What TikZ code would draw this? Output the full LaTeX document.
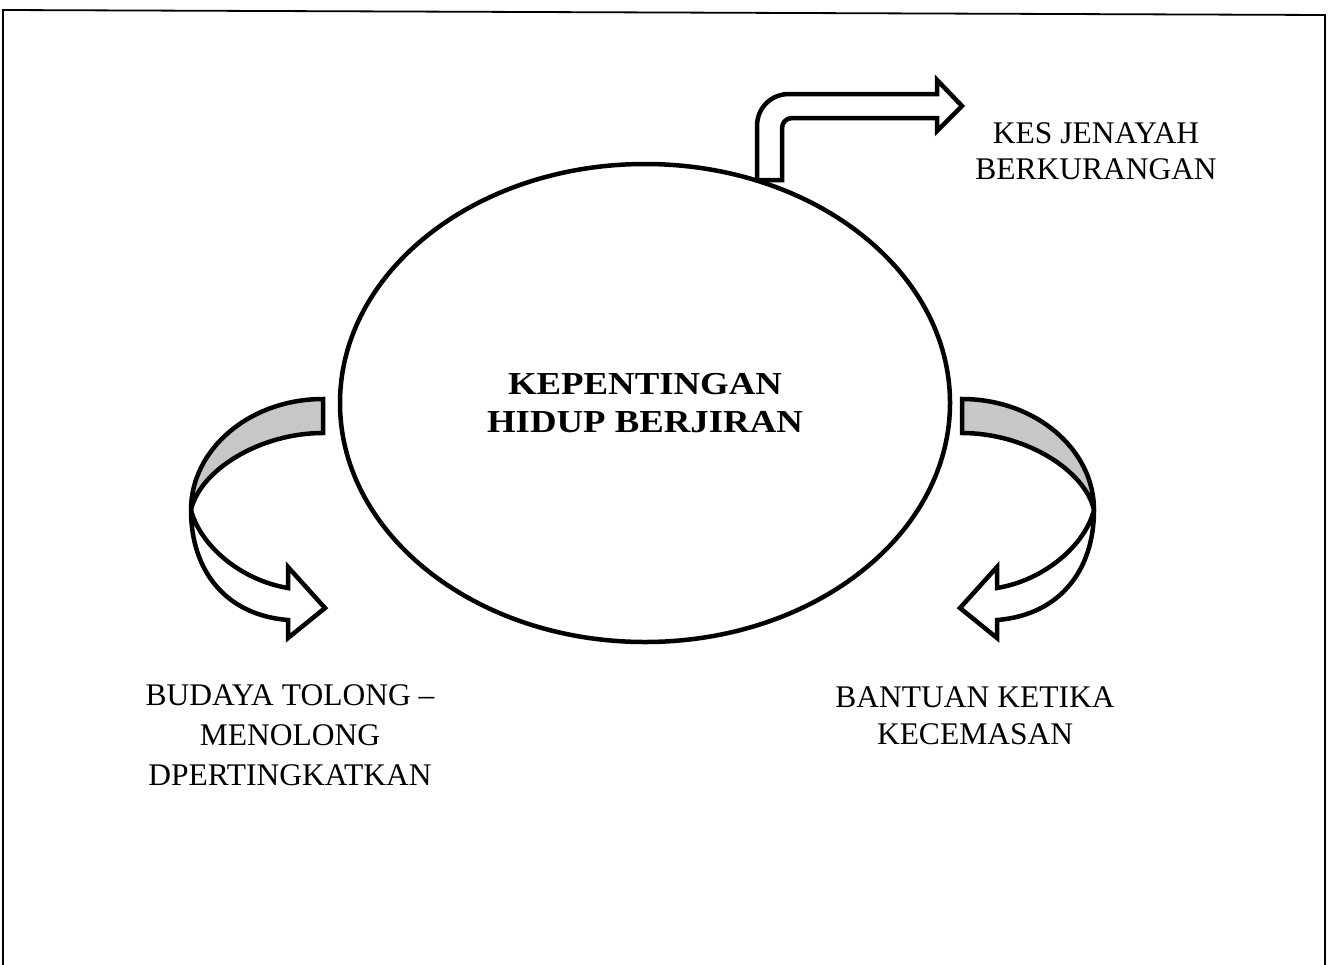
\documentclass[tikz,border=0pt]{standalone}
\usepackage{fontspec}
\setmainfont{Liberation Serif}
\newfontfamily\hubfont[FakeStretch=1.15]{Liberation Serif Bold}
\usepackage{tikz}
\usetikzlibrary{shapes.geometric}
\tikzset{
  every picture/.style = {
    x = 1pt,
    y = -1pt
  }
  ,
  hub/.style = {
    ellipse,
    draw,
    line width = 4.5pt,
    minimum width = 610pt,
    minimum height = 478pt,
    inner sep = 0pt,
    align = center,
    font = \hubfont\fontsize{32}{38}\selectfont
  }
  , % texts beside the arrows
  label-text/.style = {
    align = center,
    inner sep = 0pt,
    font = \fontsize{31.5}{38}\selectfont
  }
  , % outline of the block arrows
  block-arrow/.style = {
    draw,
    fill = white,
    line width = 4.5pt,
    line join = miter,
    miter limit = 3
  }
  , % shaded back side of a bent band
  back-band/.style = {
    block-arrow,
    fill = black!22
  }
  ,
  frame-line/.style = {
    line width = 1.8pt
  }
}
% bent arrow at the left, mirrored for the right one
\newcommand{\turnarrow}{%
  \draw[back-band] (323,399) .. controls (250,399) and (191,449) .. (191,510)
    .. controls (200,470) and (260,433) .. (323,433) -- cycle;
  \draw[block-arrow] (191,510) .. controls (191,570) and (225,615) .. (288,620)
    -- (288,638) -- (325,608) -- (288,567) -- (288,588)
    .. controls (240,580) and (200,545) .. (191,510) -- cycle;
}

\begin{document}
\begin{tikzpicture}
		\useasboundingbox (0,0) rectangle (1329,964);
		\draw[frame-line] (3,980) -- (3,10) -- (1325,15) -- (1325,980);
		% arrow going up and to the right
		\draw[block-arrow] (757,180) -- (757,126) .. controls (757,108) and (771,94) .. (789,94)
		  -- (937,94) -- (937,80) -- (962,106) -- (937,131) -- (937,118)
		  -- (792,118) .. controls (786,118) and (782,123) .. (782,128) -- (782,180) -- cycle;
		\turnarrow
		\begin{scope}[xshift=1285pt, xscale=-1]
		  \turnarrow
		\end{scope}
		\node[hub] (hub) at (645,403) {KEPENTINGAN\\HIDUP BERJIRAN};
		\node[label-text, font=\fontsize{31.5}{36}\selectfont] (crime) at (1096,151) {KES JENAYAH\\BERKURANGAN};
		\node[label-text, font=\fontsize{31.5}{40}\selectfont] (help) at (290,735) {BUDAYA TOLONG –\\MENOLONG\\DPERTINGKATKAN};
		\node[label-text, font=\fontsize{31.5}{37}\selectfont] (aid) at (975,716) {BANTUAN KETIKA\\KECEMASAN};
\end{tikzpicture}
\end{document}
